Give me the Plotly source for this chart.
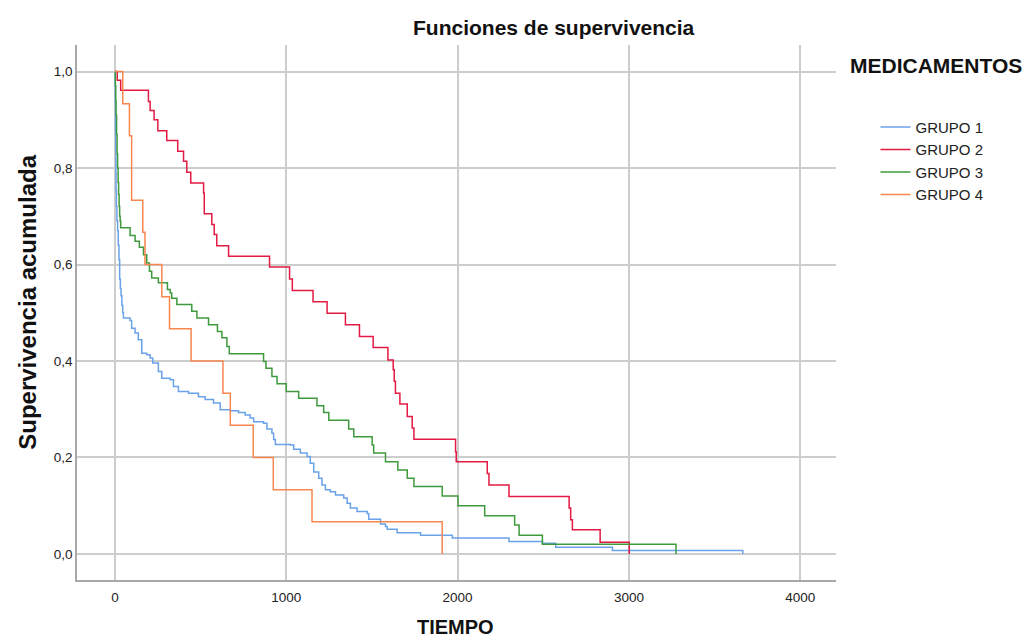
import plotly.graph_objects as go

# Kaplan-Meier estimates per treatment group (time, cumulative survival)
grupo1_t = [0, 1, 2, 3, 4, 5, 6, 8, 11, 15, 19, 23, 27, 31, 35, 40, 45, 49, 88, 97, 117, 136, 156,
            185, 205, 220, 253, 273, 322, 341, 370, 429, 487, 526, 575, 614, 673, 721, 760, 789,
            809, 867, 887, 916, 926, 936, 1023, 1043, 1082, 1121, 1140, 1160, 1189, 1208, 1228,
            1257, 1287, 1335, 1355, 1374, 1413, 1472, 1481, 1550, 1579, 1589, 1647, 1784, 1969,
            2300, 2495, 2573, 2904, 3665]
grupo1_s = [1.0, 0.97, 0.93, 0.88, 0.84, 0.79, 0.755, 0.72, 0.69, 0.67, 0.64, 0.61, 0.57, 0.55,
            0.535, 0.515, 0.50, 0.489, 0.484, 0.468, 0.458, 0.444, 0.416, 0.413, 0.406, 0.396,
            0.378, 0.364, 0.361, 0.347, 0.337, 0.333, 0.326, 0.320, 0.313, 0.299, 0.297, 0.293,
            0.288, 0.282, 0.274, 0.271, 0.259, 0.250, 0.237, 0.227, 0.226, 0.217, 0.209, 0.202,
            0.188, 0.170, 0.157, 0.143, 0.133, 0.129, 0.122, 0.116, 0.105, 0.095, 0.088, 0.084,
            0.072, 0.062, 0.057, 0.051, 0.044, 0.039, 0.033, 0.026, 0.022, 0.014, 0.007, 0.0]

grupo2_t = [0, 13, 33, 195, 205, 228, 250, 302, 366, 400, 419, 442, 517, 521, 565, 579, 594, 663,
            902, 1019, 1035, 1156, 1238, 1345, 1427, 1507, 1593, 1624, 1630, 1637, 1663, 1706,
            1735, 1745, 1988, 1992, 2173, 2183, 2300, 2651, 2660, 2670, 2832, 3002]
grupo2_s = [1.0, 0.982, 0.961, 0.938, 0.919, 0.900, 0.877, 0.857, 0.835, 0.814, 0.791, 0.769,
            0.748, 0.705, 0.683, 0.662, 0.639, 0.617, 0.595, 0.570, 0.546, 0.523, 0.499, 0.475,
            0.451, 0.428, 0.402, 0.382, 0.358, 0.333, 0.311, 0.285, 0.261, 0.238, 0.212, 0.191,
            0.167, 0.143, 0.119, 0.095, 0.071, 0.050, 0.024, 0.0]

grupo3_t = [0, 2, 4, 6, 9, 12, 15, 18, 21, 24, 27, 30, 33, 88, 117, 142, 166, 185, 201, 214, 253,
            306, 322, 331, 361, 448, 478, 546, 598, 624, 653, 667, 867, 881, 916, 946, 1000, 1072,
            1179, 1218, 1248, 1364, 1394, 1501, 1510, 1579, 1651, 1706, 1745, 1910, 2002, 2158,
            2333, 2359, 2495, 3275]
grupo3_s = [1.0, 0.97, 0.94, 0.91, 0.87, 0.83, 0.80, 0.77, 0.745, 0.72, 0.70, 0.69, 0.676, 0.660,
            0.648, 0.636, 0.620, 0.603, 0.586, 0.572, 0.562, 0.548, 0.541, 0.530, 0.517, 0.503,
            0.489, 0.475, 0.461, 0.448, 0.430, 0.415, 0.399, 0.385, 0.368, 0.353, 0.337, 0.323,
            0.307, 0.293, 0.277, 0.259, 0.243, 0.226, 0.209, 0.191, 0.174, 0.157, 0.140, 0.120,
            0.100, 0.079, 0.060, 0.039, 0.020, 0.0]

grupo4_t = [0, 45, 84, 97, 162, 175, 273, 318, 444, 630, 673, 807, 924, 1150, 1910]
grupo4_s = [1.0, 0.933, 0.867, 0.733, 0.667, 0.600, 0.533, 0.467, 0.400, 0.333, 0.267, 0.200,
            0.133, 0.067, 0.0]

grupos = ["GRUPO 1", "GRUPO 2", "GRUPO 3", "GRUPO 4"]
colores = ["#6aa2ea", "#e31a43", "#3e9a3c", "#f7864f"]
series = [(grupo1_t, grupo1_s), (grupo2_t, grupo2_s), (grupo3_t, grupo3_s), (grupo4_t, grupo4_s)]

FONT = "Liberation Sans, Arial, sans-serif"

fig = go.Figure()
for nombre, color, (t, s) in zip(grupos, colores, series):
    fig.add_trace(go.Scatter(
        x=t, y=s, mode="lines", name=nombre,
        line=dict(color=color, width=1.5, shape="hv"),
    ))

grid = "#cdcdcd"
fig.update_layout(
    width=1025, height=643,
    margin=dict(l=77, r=189, t=45, b=63),
    paper_bgcolor="white", plot_bgcolor="white",
    separators=",.",
    font=dict(family=FONT, color="#222222", size=13.5),
    showlegend=True,
    legend=dict(
        x=1.052, y=0.877, xanchor="left", yanchor="top",
        font=dict(family=FONT, size=15, color="#222222"),
        bgcolor="rgba(0,0,0,0)", tracegroupgap=0, itemwidth=30,
    ),
    xaxis=dict(
        range=[-222, 4209], tickvals=[0, 1000, 2000, 3000, 4000],
        showgrid=True, gridcolor=grid, gridwidth=1.5,
        showline=True, linecolor="#a8a8a8", linewidth=1.5,
        zeroline=False, ticks="", ticklabelstandoff=4,
        tickfont=dict(size=13.5, color="#222222"),
    ),
    yaxis=dict(
        range=[-0.054, 1.055], tickvals=[0, 0.2, 0.4, 0.6, 0.8, 1.0], tickformat=".1f",
        showgrid=True, gridcolor=grid, gridwidth=1.5,
        showline=True, linecolor="#a8a8a8", linewidth=1.5,
        zeroline=False, ticks="", tickfont=dict(size=13.5, color="#222222"),
    ),
    annotations=[
        dict(text="<b>Funciones de supervivencia</b>", xref="paper", yref="paper",
             x=0.629, y=1.032, xanchor="center", yanchor="middle", showarrow=False,
             font=dict(family=FONT, size=21, color="#111111")),
        dict(text="<b>Supervivencia acumulada</b>", xref="paper", yref="paper",
             x=-0.0646, y=0.52, xanchor="center", yanchor="middle", showarrow=False,
             textangle=-90, font=dict(family=FONT, size=24, color="#111111")),
        dict(text="<b>TIEMPO</b>", xref="paper", yref="paper",
             x=0.4993, y=-0.113, xanchor="center", yanchor="bottom", showarrow=False,
             font=dict(family=FONT, size=20, color="#111111")),
        dict(text="<b>MEDICAMENTOS</b>", xref="paper", yref="paper",
             x=1.0158, y=0.9626, xanchor="left", yanchor="middle", showarrow=False,
             font=dict(family=FONT, size=21, color="#111111")),
    ],
)

fig.write_html("out.html")
